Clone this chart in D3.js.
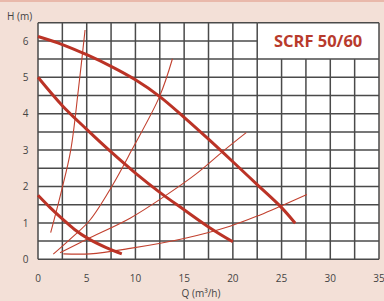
<!DOCTYPE html>
<html><head><meta charset="utf-8">
<script src="https://cdn.jsdelivr.net/npm/d3@7"></script>
<style>html,body{margin:0;padding:0;background:#f3e0d7;}svg{display:block;}</style>
</head><body>
<script>
// ---- data ----
const xTicks = [0, 5, 10, 15, 20, 25, 30, 35];
const yTicks = [0, 1, 2, 3, 4, 5, 6];
const title = "SCRF 50/60";
const xLabel = "Q (m³/h)";
const yLabel = "H (m)";
// pump curves (Q, H)
const pumpHigh = [[0,6.12],[2.5,5.9],[5,5.62],[7.5,5.3],[10,4.93],[12.5,4.47],[15,3.9],[17.5,3.3],[20,2.68],[22.5,2.05],[25,1.42],[26.4,0.99]];
const pumpMid = [[0,5.0],[2.5,4.22],[5,3.57],[7.5,2.95],[10,2.37],[12.5,1.84],[15,1.36],[17.5,0.89],[20.0,0.48]];
const pumpLow = [[0,1.76],[1.25,1.42],[2.5,1.11],[3.75,0.82],[5.2,0.56],[7,0.32],[8.6,0.15]];
// system curves (Q, H)
const sysA = [[1.3,0.73],[2.43,1.9],[3.36,3.0],[4.14,4.65],[4.83,6.3]];
const sysB = [[1.57,0.14],[3.5,0.6],[5.34,1.08],[7.57,2.0],[9.62,3.0],[12.47,4.47],[13.8,5.51]];
const sysC = [[2.26,0.18],[5,0.55],[9.45,1.13],[13.2,1.77],[16.3,2.36],[19.04,2.98],[21.37,3.48]];
const sysD = [[2.6,0.15],[5.34,0.15],[9.45,0.3],[15.1,0.58],[19.7,0.91],[22.8,1.22],[24.9,1.46],[27.6,1.78]];

const W = 384, H = 301;
const svg = d3.select("body").append("svg").attr("width", W).attr("height", H);
svg.append("rect").attr("width", W).attr("height", H).attr("fill", "#f3e0d7");
svg.append("rect").attr("width", W).attr("height", 2).attr("fill", "#e9b9ab");

const x = d3.scaleLinear().domain([0, 35]).range([38, 379]);
const y = d3.scaleLinear().domain([0, 6.5]).range([259.3, 22.7]);

svg.append("rect").attr("x", x(0)).attr("y", y(6.5)).attr("width", x(35) - x(0)).attr("height", y(0) - y(6.5)).attr("fill", "#fff");

const g = svg.append("g");
const gridCol = "#4a4a4a";
d3.range(0, 35.01, 2.5).forEach(v => {
  const top = v > 22.5 ? 5.5 : 6.5;
  g.append("line").attr("x1", x(v)).attr("x2", x(v)).attr("y1", y(0)).attr("y2", y(top))
    .attr("stroke", gridCol).attr("stroke-width", 1.5);
});
d3.range(0, 6.51, 0.5).forEach(v => {
  const right = v > 5.5 ? 22.5 : 35;
  g.append("line").attr("x1", x(0)).attr("x2", x(right)).attr("y1", y(v)).attr("y2", y(v))
    .attr("stroke", gridCol).attr("stroke-width", 1.5);
});
g.append("line").attr("x1", x(22.5)).attr("x2", x(35)).attr("y1", y(6.5)).attr("y2", y(6.5)).attr("stroke", gridCol).attr("stroke-width", 1.5);
g.append("line").attr("x1", x(35)).attr("x2", x(35)).attr("y1", y(6.5)).attr("y2", y(5.5)).attr("stroke", gridCol).attr("stroke-width", 1.5);

svg.append("text").attr("x", (x(22.5) + x(35)) / 2).attr("y", y(6.0) + 6)
  .attr("text-anchor", "middle").attr("font-family", "'Open Sans', sans-serif").attr("font-weight", "bold")
  .attr("font-size", 16.5).attr("fill", "#b83a2c").text(title);

const line = d3.line().x(d => x(d[0])).y(d => y(d[1])).curve(d3.curveCatmullRom.alpha(0.5));
const red = "#bb3326";
[sysA, sysB, sysC, sysD].forEach(s => {
  svg.append("path").attr("d", line(s)).attr("fill", "none").attr("stroke", "#c2412f").attr("stroke-width", 1.1);
});
[pumpHigh, pumpMid, pumpLow].forEach(s => {
  svg.append("path").attr("d", line(s)).attr("fill", "none").attr("stroke", red).attr("stroke-width", 3);
});

const font = "'Open Sans', sans-serif";
xTicks.forEach(t => {
  svg.append("text").attr("x", x(t)).attr("y", 282).attr("text-anchor", "middle")
    .attr("font-family", font).attr("font-size", 10).attr("fill", "#444").text(t);
});
yTicks.forEach(t => {
  svg.append("text").attr("x", 28.5).attr("y", y(t) + 3.6).attr("text-anchor", "end")
    .attr("font-family", font).attr("font-size", 10).attr("fill", "#444").text(t);
});
svg.append("text").attr("x", 201).attr("y", 297).attr("text-anchor", "middle")
  .attr("font-family", font).attr("font-size", 10).attr("fill", "#444").text(xLabel);
svg.append("text").attr("x", 7).attr("y", 20)
  .attr("font-family", font).attr("font-size", 10).attr("fill", "#444").text(yLabel);
</script>
</body></html>
